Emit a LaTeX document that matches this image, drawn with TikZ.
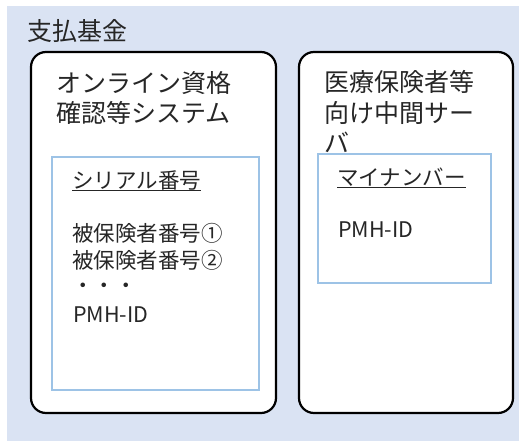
\documentclass[tikz,border=0pt]{standalone}
\usepackage{fontspec}
\setmainfont{Noto Sans CJK JP}
\usetikzlibrary{calc}
\definecolor{bgblue}{HTML}{DAE3F3}
\definecolor{frameblue}{HTML}{9DC3E6}
\definecolor{txt}{HTML}{262626}
\tikzset{
  sysbox/.style={draw=black, line width=2.2pt, fill=white, rounded corners=15pt},
  databox/.style={draw=frameblue, line width=1.8pt, fill=white},
  big/.style={anchor=base west, inner sep=0pt, text=txt, font=\fontsize{25pt}{30pt}\selectfont},
  small/.style={anchor=base west, inner sep=0pt, text=txt, font=\fontsize{21.5pt}{27pt}\selectfont},
  uline/.style={draw=txt, line width=0.9pt}
}
\begin{document}
\begin{tikzpicture}[x=1pt,y=-1pt]
\useasboundingbox (0,0) rectangle (519,441);
\fill[bgblue] (7,6) rectangle (519,441);
\node[big] (fund) at (27,40.5) {支払基金};
% left system
\draw[sysbox] (31,52) rectangle (276,413);
\draw[databox] (52,157) rectangle (259,390);
\node[big] (l1) at (56,93) {オンライン資格};
\node[big] (l2) at (56,123) {確認等システム};
\node[small] (serial) at (72,188.4) {シリアル番号};
\draw[uline] ($(serial.base west)+(0,2)$) -- ($(serial.base east)+(0,2)$);
\node[small] (ins1) at (72,241.5) {被保険者番号①};
\node[small] (ins2) at (72,268.5) {被保険者番号②};
\node[small] (dots) at (72,293.5) {・・・};
\node[small] (pmh1) at (73,322) {PMH-ID};
% right system
\draw[sysbox] (299,52) rectangle (513,413);
\draw[databox] (318,154) rectangle (491,283);
\node[big] (r1) at (324,92) {医療保険者等};
\node[big] (r2) at (324,122) {向け中間サー};
\node[big] (r3) at (324,152) {バ};
\node[small] (myno) at (337,185) {マイナンバー};
\draw[uline] ($(myno.base west)+(0,2)$) -- ($(myno.base east)+(0,2)$);
\node[small] (pmh2) at (338,237) {PMH-ID};
\end{tikzpicture}
\end{document}
